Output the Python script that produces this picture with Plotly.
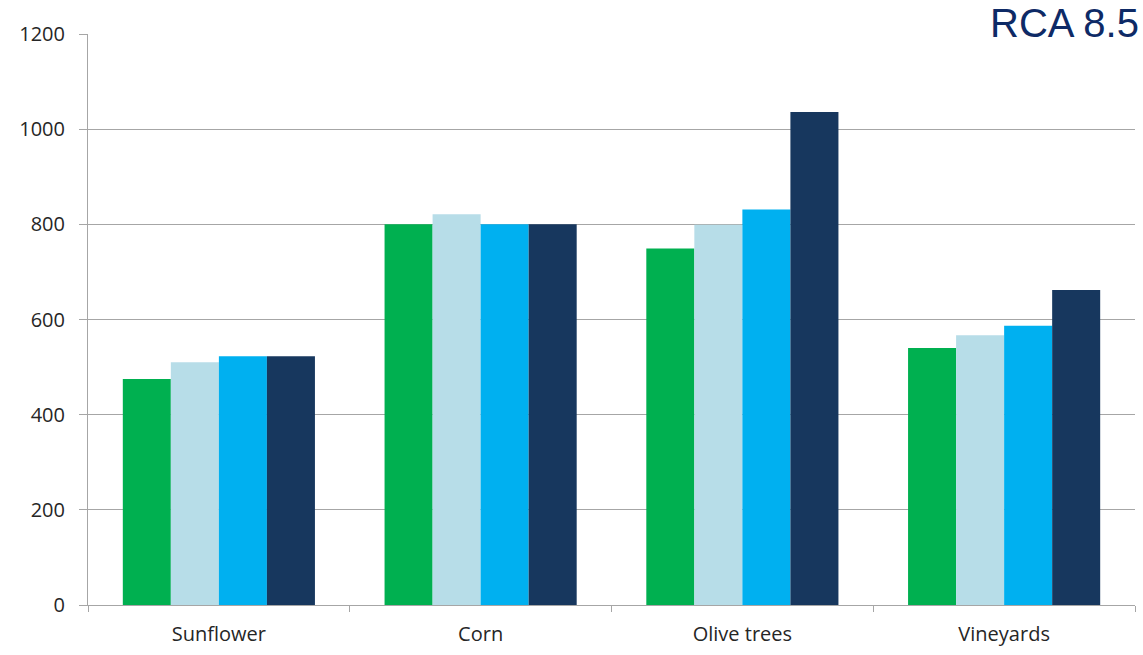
import plotly.graph_objects as go

categories = ["Sunflower", "Corn", "Olive trees", "Vineyards"]
series_1 = [475, 800, 749, 540]
series_2 = [510, 821, 799, 567]
series_3 = [523, 800, 831, 587]
series_4 = [523, 800, 1036, 662]
colors = ["#00B050", "#B7DDE8", "#00B0F0", "#17375E"]
y_ticks = [0, 200, 400, 600, 800, 1000, 1200]
title_text = "RCA 8.5"

fig = go.Figure()
for vals, col in zip([series_1, series_2, series_3, series_4], colors):
    fig.add_trace(go.Bar(x=categories, y=vals, marker=dict(color=col, line=dict(width=0)),
                         showlegend=False))

tick_font = dict(family="Open Sans, sans-serif", size=20, color="#262626")

fig.update_layout(
    width=1143, height=655,
    margin=dict(l=88, r=8, t=34, b=50),
    paper_bgcolor="white", plot_bgcolor="white",
    barmode="group", bargap=0.266, bargroupgap=0,
    font=dict(family="Open Sans, sans-serif", size=20, color="#262626"),
    xaxis=dict(type="category", showline=True, linecolor="#A6A6A6", linewidth=1,
               ticks="outside", tickson="boundaries", ticklen=6, tickcolor="#A6A6A6",
               showgrid=False, tickfont=tick_font, ticklabelstandoff=11),
    yaxis=dict(range=[0, 1200], tickvals=y_ticks, showline=True, linecolor="#A6A6A6",
               linewidth=1, ticks="outside", ticklen=8, tickcolor="#A6A6A6",
               showgrid=True, gridcolor="#A6A6A6", gridwidth=1, zeroline=False,
               tickfont=tick_font, ticklabelstandoff=10),
    annotations=[dict(text=title_text, xref="paper", yref="paper", x=1.0, y=1.0,
                      xanchor="right", yanchor="top", yshift=34, xshift=5,
                      showarrow=False, borderpad=0,
                      font=dict(family="Liberation Sans, Arial", size=40, color="#0E2A66"))],
)

fig.write_html("out.html")
